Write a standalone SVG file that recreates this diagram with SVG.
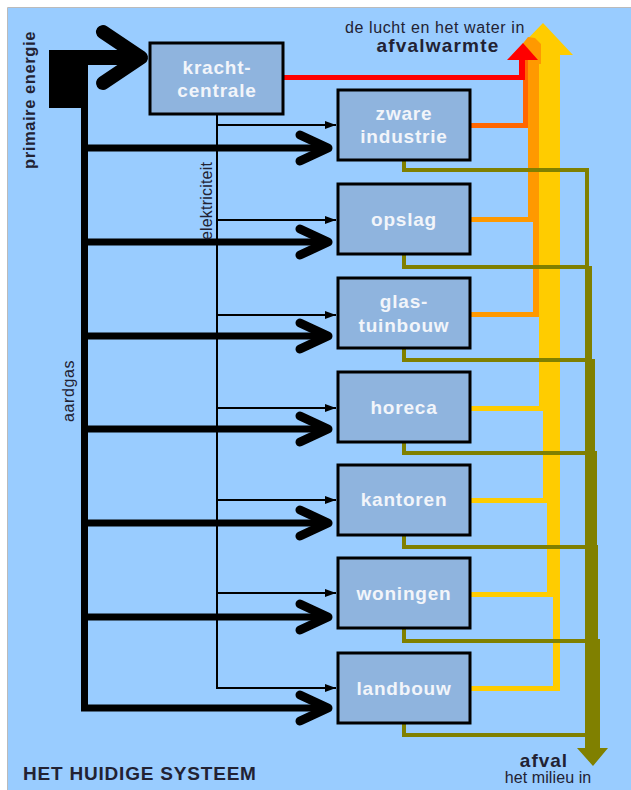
<svg xmlns="http://www.w3.org/2000/svg" xmlns:xlink="http://www.w3.org/1999/xlink" width="631" height="790" viewBox="0 0 631 790">
<style>
.box{fill:#8FB4DE;stroke:#000;stroke-width:3}
.lbl{font-family:"Liberation Sans",Arial,sans-serif;font-weight:bold;font-size:19px;fill:#F2F5FA;letter-spacing:0.8px;text-anchor:middle}
.gas{stroke:#000;stroke-width:7;fill:none}
.chev{stroke:#000;stroke-width:9;fill:none;stroke-linecap:round;stroke-linejoin:round}
.elec{stroke:#000;stroke-width:2;fill:none;marker-end:url(#ah)}
.olive{stroke:#808000;stroke-width:4;fill:none}
.txt{font-family:"Liberation Sans",Arial,sans-serif;fill:#222233}
</style>
<defs>
<marker id="ah" markerUnits="userSpaceOnUse" markerWidth="12" markerHeight="10" refX="11" refY="4" orient="auto"><path d="M0,0 L11,4 L0,8 Z" fill="#000"/></marker>
<path id="chev" class="chev" d="M-28,-13 L0,0 L-28,13"/>
</defs>
<rect x="0" y="0" width="631" height="790" fill="#fff"/>
<rect x="8" y="8" width="623" height="782" fill="#99CCFF"/>
<path d="M7.5,790 V7.5 H631" fill="none" stroke="#BBBBBB" stroke-width="1"/>

<g id="connectors">
<g id="aardgas-flows">
<rect x="49" y="50" width="39" height="58" fill="#000"/>
<rect x="84" y="50" width="56" height="15" fill="#000"/>
<path d="M103,32 L141,57.5 L103,83" fill="none" stroke="#000" stroke-width="14" stroke-linecap="round" stroke-linejoin="round"/>
<path class="gas" d="M84.5,100 V708 H328"/>
<path class="gas" d="M84.5,148 H328 M84.5,242 H328 M84.5,336 H328 M84.5,429 H328 M84.5,523 H328 M84.5,617 H328"/>
<use xlink:href="#chev" x="328" y="148"/>
<use xlink:href="#chev" x="328" y="242"/>
<use xlink:href="#chev" x="328" y="336"/>
<use xlink:href="#chev" x="328" y="429"/>
<use xlink:href="#chev" x="328" y="523"/>
<use xlink:href="#chev" x="328" y="617"/>
<use xlink:href="#chev" x="328" y="708"/>
</g>
<g id="elektriciteit-flows">
<path class="elec" d="M217,114 V688 H336"/>
<path class="elec" d="M217,125 H336"/>
<path class="elec" d="M217,220 H336"/>
<path class="elec" d="M217,315 H336"/>
<path class="elec" d="M217,408 H336"/>
<path class="elec" d="M217,500 H336"/>
<path class="elec" d="M217,593 H336"/>
</g>
<g id="afvalwarmte-flows">
<polygon points="512,55 543,23 573,55" fill="#FFCC00"/>
<rect x="539" y="54" width="21" height="357" fill="#FFCC00"/>
<rect x="543" y="410" width="17" height="93" fill="#FFCC00"/>
<rect x="547" y="502" width="13" height="95" fill="#FFCC00"/>
<rect x="553" y="596" width="7" height="95" fill="#FFCC00"/>
<rect x="470" y="406" width="73" height="5" fill="#FFCC00"/>
<rect x="470" y="498" width="77" height="5" fill="#FFCC00"/>
<rect x="470" y="592" width="83" height="5" fill="#FFCC00"/>
<rect x="470" y="686" width="90" height="5" fill="#FFCC00"/>
<polygon points="521,46 528,37 535,38 541,44 541,64 521,64" fill="#FF9900"/>
<rect x="528" y="44" width="11" height="178" fill="#FF9900"/>
<rect x="533" y="221" width="6" height="96" fill="#FF9900"/>
<rect x="470" y="217" width="63" height="5" fill="#FF9900"/>
<rect x="470" y="312" width="69" height="5" fill="#FF9900"/>
<rect x="523" y="58" width="5" height="70" fill="#FF6600"/>
<rect x="470" y="123" width="58" height="5" fill="#FF6600"/>
<rect x="283" y="75" width="242" height="5" fill="#FF0000"/>
<rect x="519" y="58" width="6" height="22" fill="#FF0000"/>
<polygon points="507,60 523,43 538,60" fill="#FF0000"/>
</g>
<g id="afval-flows">
<path d="M585,168 H589 V266 H592 V359 H595 V451 H597 V545 H598 V639 H600 V748 H608 L593,766 L577,748 H585 Z" fill="#808000"/>
<path class="olive" d="M404,160 V170 H587"/>
<path class="olive" d="M404,254 V267 H587"/>
<path class="olive" d="M404,348 V360 H587"/>
<path class="olive" d="M404,442 V453 H587"/>
<path class="olive" d="M404,535 V547 H587"/>
<path class="olive" d="M404,628 V641 H587"/>
<path class="olive" d="M404,723 V735 H587"/>
</g>
</g>

<g id="kracht-centrale">
<rect class="box" x="150" y="43" width="133" height="71"/>
<text class="lbl" x="217" y="74">kracht-</text>
<text class="lbl" x="217" y="97">centrale</text>
</g>
<g id="zware-industrie">
<rect class="box" x="338" y="90" width="132" height="70"/>
<text class="lbl" x="404" y="120">zware</text>
<text class="lbl" x="404" y="143">industrie</text>
</g>
<g id="opslag">
<rect class="box" x="338" y="184" width="132" height="70"/>
<text class="lbl" x="404" y="226">opslag</text>
</g>
<g id="glastuinbouw">
<rect class="box" x="338" y="278" width="132" height="70"/>
<text class="lbl" x="404" y="308">glas-</text>
<text class="lbl" x="404" y="332">tuinbouw</text>
</g>
<g id="horeca">
<rect class="box" x="338" y="372" width="132" height="70"/>
<text class="lbl" x="404" y="414">horeca</text>
</g>
<g id="kantoren">
<rect class="box" x="338" y="465" width="132" height="70"/>
<text class="lbl" x="404" y="506">kantoren</text>
</g>
<g id="woningen">
<rect class="box" x="338" y="558" width="132" height="70"/>
<text class="lbl" x="404" y="600">woningen</text>
</g>
<g id="landbouw">
<rect class="box" x="338" y="653" width="132" height="70"/>
<text class="lbl" x="404" y="695">landbouw</text>
</g>

<g id="labels">
<text class="txt" transform="translate(35,100) rotate(-90)" text-anchor="middle" font-size="16.5" font-weight="bold" letter-spacing="0.6" fill="#111">primaire energie</text>
<text class="txt" transform="translate(73.5,391) rotate(-90)" text-anchor="middle" font-size="16" letter-spacing="0.6">aardgas</text>
<text class="txt" transform="translate(212,201) rotate(-90)" text-anchor="middle" font-size="16" letter-spacing="0.2">elektriciteit</text>
<text class="txt" x="435" y="33" text-anchor="middle" font-size="16" letter-spacing="0.6">de lucht en het water in</text>
<text class="txt" x="438" y="52" text-anchor="middle" font-size="19" font-weight="bold" letter-spacing="1.2">afvalwarmte</text>
<text class="txt" x="544" y="767" text-anchor="middle" font-size="19" font-weight="bold" letter-spacing="1">afval</text>
<text class="txt" x="548" y="783" text-anchor="middle" font-size="16" letter-spacing="0.1">het milieu in</text>
<text class="txt" x="23" y="780" font-size="19" font-weight="bold" letter-spacing="0.8" fill="#1F1F4F">HET HUIDIGE SYSTEEM</text>
</g>
</svg>
